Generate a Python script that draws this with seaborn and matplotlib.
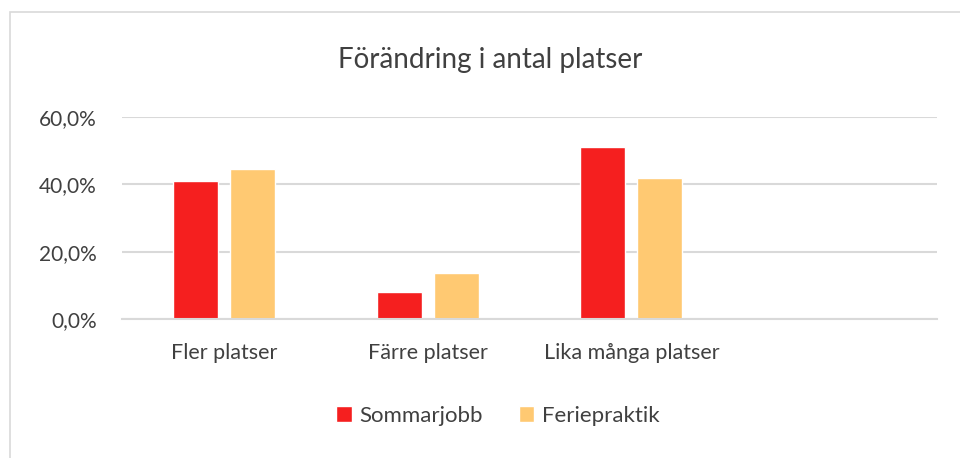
import matplotlib
matplotlib.use("Agg")
import matplotlib.pyplot as plt
from matplotlib.ticker import FuncFormatter
from matplotlib.patches import Rectangle
import seaborn as sns
import pandas as pd

# Data
categories = ["Fler platser", "Färre platser", "Lika många platser"]
sommarjobb = [41.0, 7.9, 51.0]
feriepraktik = [44.6, 13.6, 41.8]
series_names = ["Sommarjobb", "Feriepraktik"]
colors = ["#F51F1F", "#FFC972"]

df = pd.DataFrame({
    "kategori": categories * 2,
    "andel": sommarjobb + feriepraktik,
    "serie": [series_names[0]] * 3 + [series_names[1]] * 3,
})

sns.set_style("white")
plt.rcParams["font.family"] = ["Lato", "DejaVu Sans"]
text_color = "#404040"
grid_color = "#D9D9D9"

fig = plt.figure(figsize=(9.6, 4.58), dpi=100)
ax = fig.add_axes([122 / 960, 1 - 319 / 458, 815 / 960, 202 / 458])

sns.barplot(data=df, x="kategori", y="andel", hue="serie", order=categories,
            hue_order=series_names, palette=colors, width=0.56, gap=0.21,
            saturation=1, ax=ax, legend=True)

ax.set_xlim(-0.5, 3.5)
ax.set_ylim(0, 60)
ax.set_yticks([0, 20, 40, 60])
ax.yaxis.set_major_formatter(FuncFormatter(lambda v, p: f"{v:.1f}".replace(".", ",") + "%"))
ax.grid(axis="y", color=grid_color, linewidth=1.5)
ax.set_axisbelow(True)
for side in ["top", "right", "left"]:
    ax.spines[side].set_visible(False)
ax.spines["bottom"].set_color(grid_color)
ax.spines["bottom"].set_linewidth(1.5)
ax.tick_params(axis="y", length=0, labelsize=15, colors=text_color, pad=18)
ax.tick_params(axis="x", length=0, labelsize=15.5, colors=text_color, pad=17)
ax.set_xlabel("")
ax.set_ylabel("")

# legend below the plot, centered
handles, labels = ax.get_legend_handles_labels()
ax.get_legend().remove()
fig.legend(handles, labels, loc="center", bbox_to_anchor=(498 / 960, 1 - 416 / 458),
           ncol=2, frameon=False, fontsize=16, labelcolor=text_color,
           handlelength=0.7, handleheight=0.7, handletextpad=0.35, columnspacing=1.6)

fig.text(490 / 960, 1 - 60 / 458, "Förändring i antal platser", ha="center", va="center",
         fontsize=20, color=text_color)

# chart frame border
fig.patches.append(Rectangle((10 / 960, -0.1), 1.2, 1.1 - 12 / 458, transform=fig.transFigure,
                             fill=False, edgecolor=grid_color, linewidth=1.2))

fig.savefig("out.png", dpi=100)
